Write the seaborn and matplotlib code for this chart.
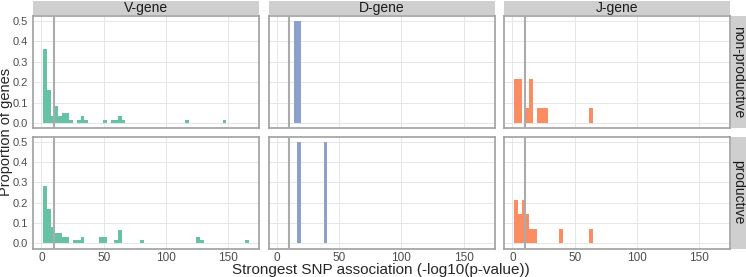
import matplotlib
matplotlib.use("Agg")
import matplotlib.pyplot as plt
import numpy as np
import pandas as pd
import seaborn as sns

# bin centres (binwidth 3) and proportion of genes
v_np_x = [3, 6, 9, 12, 15, 18, 21, 24, 30, 33, 36, 51, 57, 60, 63, 66, 117, 147]
v_np_y = [0.361, 0.164, 0.033, 0.082, 0.033, 0.049, 0.049, 0.016, 0.016, 0.033,
          0.016, 0.016, 0.016, 0.016, 0.033, 0.016, 0.016, 0.016]
v_p_x = [3, 6, 9, 12, 15, 18, 21, 27, 30, 33, 48, 51, 60, 63, 81, 126, 129, 165]
v_p_y = [0.283, 0.167, 0.083, 0.05, 0.05, 0.033, 0.033, 0.017, 0.017, 0.033,
         0.033, 0.033, 0.017, 0.067, 0.017, 0.033, 0.017, 0.017]
d_np_x = [15, 18]
d_np_y = [0.5, 0.5]
d_p_x = [18, 39]
d_p_y = [0.5, 0.5]
j_np_x = [3, 6, 12, 15, 21, 24, 27, 63]
j_np_y = [0.214, 0.214, 0.071, 0.214, 0.071, 0.071, 0.071, 0.071]
j_p_x = [3, 6, 9, 12, 15, 18, 39, 63]
j_p_y = [0.214, 0.143, 0.214, 0.143, 0.071, 0.071, 0.071, 0.071]

genes = ["V-gene", "D-gene", "J-gene"]
rows = ["non-productive", "productive"]
colors = {"V-gene": "#66C2A5", "D-gene": "#8DA0CB", "J-gene": "#FC8D62"}
data = {
    ("non-productive", "V-gene"): (v_np_x, v_np_y),
    ("productive", "V-gene"): (v_p_x, v_p_y),
    ("non-productive", "D-gene"): (d_np_x, d_np_y),
    ("productive", "D-gene"): (d_p_x, d_p_y),
    ("non-productive", "J-gene"): (j_np_x, j_np_y),
    ("productive", "J-gene"): (j_p_x, j_p_y),
}

sns.set_style("white")
plt.rcParams["font.family"] = ["Liberation Sans", "DejaVu Sans"]

W, H = 746, 277
fig = plt.figure(figsize=(W / 100, H / 100), dpi=100)

def box(x0, y0, x1, y1):
    # pixel box (top-left origin) -> figure fraction
    return [x0 / W, 1 - y1 / H, (x1 - x0) / W, (y1 - y0) / H]

col_x = [(33, 259), (268.5, 494.5), (504, 730)]
row_y = [(16, 128), (136.5, 248.5)]
border = "#A0A0A0"
strip_bg = "#CFCFCF"

for r, row in enumerate(rows):
    for c, gene in enumerate(genes):
        x0, x1 = col_x[c]
        y0, y1 = row_y[r]
        ax = fig.add_axes(box(x0, y0, x1, y1))
        xs, ys = data[(row, gene)]
        df = pd.DataFrame({"x": xs, "w": ys})
        sns.histplot(data=df, x="x", weights="w", binwidth=3, binrange=(1.5, 166.5),
                     color=colors[gene], alpha=1, linewidth=0, ax=ax, zorder=2)
        ax.axvline(10, color="#ABABAB", lw=1.5, zorder=3)
        ax.set_xlim(-6.75, 174.75)
        ax.set_ylim(-0.025, 0.525)
        ax.set_xticks([0, 50, 100, 150])
        ax.set_yticks(np.arange(0, 0.51, 0.1))
        ax.grid(True, color="#E6E6E6", lw=0.7, zorder=0)
        ax.set_axisbelow(True)
        ax.set_xlabel("")
        ax.set_ylabel("")
        for s in ax.spines.values():
            s.set_color(border)
            s.set_linewidth(1.2)
        ax.tick_params(length=2, width=0.6, color="#B3B3B3", labelsize=8,
                       labelcolor="#4D4D4D", pad=1.5)
        ax.tick_params(axis="x", pad=0.5, labelsize=8.5)
        if c == 0:
            ax.set_yticklabels(["0.0", "0.1", "0.2", "0.3", "0.4", "0.5"])
        else:
            ax.set_yticklabels([])
            ax.tick_params(axis="y", length=0)
        if r == 1:
            ax.set_xticklabels(["0", "50", "100", "150"])
        else:
            ax.set_xticklabels([])
            ax.tick_params(axis="x", length=0)

# top strips
for c, gene in enumerate(genes):
    x0, x1 = col_x[c]
    sax = fig.add_axes(box(x0, 0.5, x1, 15))
    sax.set_facecolor(strip_bg)
    sax.set_xticks([]); sax.set_yticks([])
    for s in sax.spines.values():
        s.set_visible(False)
    sax.text(0.5, 0.45, gene, ha="center", va="center", fontsize=10,
             color="#1A1A1A", transform=sax.transAxes)

# right strips
for r, row in enumerate(rows):
    y0, y1 = row_y[r]
    sax = fig.add_axes(box(731, y0, 746, y1))
    sax.set_facecolor(strip_bg)
    sax.set_xticks([]); sax.set_yticks([])
    for s in sax.spines.values():
        s.set_visible(False)
    sax.text(0.45, 0.5, row, ha="center", va="center", fontsize=10,
             rotation=-90, color="#1A1A1A", transform=sax.transAxes)

fig.text(381 / W, 1 - 270 / H, "Strongest SNP association (-log10(p-value))",
         ha="center", va="center", fontsize=11)
fig.text(6.5 / W, 1 - 132 / H, "Proportion of genes", ha="center", va="center",
         rotation=90, fontsize=10.5)

fig.savefig("out.png", dpi=100)
